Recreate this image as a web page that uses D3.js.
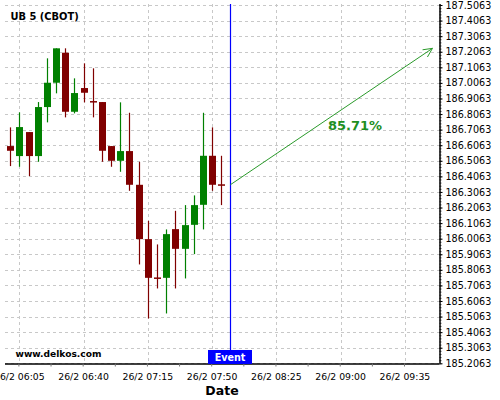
<!DOCTYPE html>
<html>
<head>
<meta charset="utf-8">
<script src="https://cdn.jsdelivr.net/npm/d3@7"></script>
<style>
	body { margin: 0; background: #fff; }
	text { font-family: 'DejaVu Sans', sans-serif; }
</style>
</head>
<body>
<svg id="chart" width="500" height="400"></svg>
<script>
// candle data, 5 minute bars on 26/2
const times = ['06:00', '06:05', '06:10', '06:15', '06:20', '06:25', '06:30', '06:35',
	'06:40', '06:45', '06:50', '06:55', '07:00', '07:05', '07:10', '07:15',
	'07:20', '07:25', '07:30', '07:35', '07:40', '07:45', '07:50', '07:55'];
const open = [186.6007, 186.5365, 186.6906, 186.5365, 186.8512, 187.0073, 187.2000, 186.8210,
	186.9732, 186.8897, 186.8833, 186.6007, 186.5063, 186.5686, 186.3522, 186.0034,
	185.7575, 185.7549, 186.0676, 185.9411, 186.0952, 186.2237, 186.5384, 186.3554];
const high = [186.7208, 186.8171, 186.6906, 186.8833, 187.1640, 187.2282, 187.2282, 187.0355,
	187.1319, 187.0998, 186.8833, 186.6007, 186.8814, 186.8146, 186.4999, 186.1209,
	185.9694, 186.0657, 186.1852, 186.2218, 186.2841, 186.8146, 186.7208, 186.5384];
const low = [186.4723, 186.4678, 186.4080, 186.4999, 186.7529, 186.9392, 186.7850, 186.8107,
	186.8814, 186.7850, 186.4999, 186.4678, 186.4357, 186.3136, 185.8409, 185.4941,
	185.6868, 185.5262, 185.6868, 185.7510, 185.9071, 186.0657, 186.3136, 186.2218];
const close = [186.5705, 186.7227, 186.5365, 186.8512, 187.0073, 187.2282, 186.8210, 186.9411,
	186.9430, 186.8877, 186.5705, 186.5063, 186.5686, 186.3522, 186.0034, 185.7549,
	185.7549, 186.0355, 185.9411, 186.0933, 186.2218, 186.5384, 186.3522, 186.3522];

const eventTime = '08:00';
const forecastTimes = ['08:00', '09:50'];
const forecastValues = [186.353, 187.228];
const forecastLabel = '85.71%';

const xTicks = ['06:05', '06:40', '07:15', '07:50', '08:25', '09:00', '09:35'];
const yTicks = [185.2063, 185.3063, 185.4063, 185.5063, 185.6063, 185.7063, 185.8063, 185.9063,
	186.0063, 186.1063, 186.2063, 186.3063, 186.4063, 186.5063, 186.6063, 186.7063,
	186.8063, 186.9063, 187.0063, 187.1063, 187.2063, 187.3063, 187.4063, 187.5063];

const title = 'UB 5 (CBOT)';
const parseTime = d3.timeParse('%H:%M');

const plotLeft = 5, plotRight = 439.5, plotTop = 4, plotBottom = 363.5;

const x = d3.scaleTime()
	.domain([new Date(1900, 0, 1, 5, 57, 12), new Date(1900, 0, 1, 9, 53, 50)])
	.range([plotLeft, plotRight]);

const y = d3.scaleLinear()
	.domain([185.2063, 187.5063])
	.range([363.3, 5]);

const svg = d3.select('#chart');

// grid
const grid = svg.append('g').attr('class', 'grid');
grid.selectAll('line.h')
	.data(yTicks)
	.enter()
	.append('line')
	.attr('x1', plotLeft)
	.attr('x2', plotRight)
	.attr('y1', (d) => Math.round(y(d)) + 0.5)
	.attr('y2', (d) => Math.round(y(d)) + 0.5)
	.attr('stroke', '#c8c8c8')
	.attr('stroke-dasharray', '3,3');

grid.selectAll('line.v')
	.data(xTicks)
	.enter()
	.append('line')
	.attr('x1', (d) => Math.round(x(parseTime(d))) + 0.5)
	.attr('x2', (d) => Math.round(x(parseTime(d))) + 0.5)
	.attr('y1', plotTop)
	.attr('y2', plotBottom)
	.attr('stroke', '#c8c8c8')
	.attr('stroke-dasharray', '3,3');

// candles
const candles = svg.append('g')
	.selectAll('g')
	.data(times.map((t, i) => ({
		t: parseTime(t), o: open[i], h: high[i], l: low[i], c: close[i]
	})))
	.enter()
	.append('g');

const colour = (d) => d.c > d.o ? '#008000' : '#800000';

candles.append('line')
	.attr('x1', (d) => Math.round(x(d.t)) + 0.5)
	.attr('x2', (d) => Math.round(x(d.t)) + 0.5)
	.attr('y1', (d) => y(d.h))
	.attr('y2', (d) => y(d.l))
	.attr('stroke', colour)
	.attr('stroke-width', 1.2);

candles.append('rect')
	.attr('x', (d) => Math.round(x(d.t)) - 3)
	.attr('width', 7)
	.attr('y', (d) => y(Math.max(d.o, d.c)))
	.attr('height', (d) => Math.max(1.5, Math.abs(y(d.o) - y(d.c))))
	.attr('fill', colour);

// event line
const ex = Math.round(x(parseTime(eventTime))) + 0.5;
svg.append('line')
	.attr('x1', ex)
	.attr('x2', ex)
	.attr('y1', plotTop)
	.attr('y2', plotBottom)
	.attr('stroke', '#0000ff')
	.attr('stroke-width', 1.2);

// forecast arrow
const p0 = [x(parseTime(forecastTimes[0])), y(forecastValues[0])];
const p1 = [x(parseTime(forecastTimes[1])), y(forecastValues[1])];
const ang = Math.atan2(p1[1] - p0[1], p1[0] - p0[0]);
const headLen = 10, headAng = 0.45;
const h1 = [p1[0] - headLen * Math.cos(ang - headAng), p1[1] - headLen * Math.sin(ang - headAng)];
const h2 = [p1[0] - headLen * Math.cos(ang + headAng), p1[1] - headLen * Math.sin(ang + headAng)];

svg.append('path')
	.attr('d', d3.line()([p0, p1]))
	.attr('stroke', '#2a9a2a')
	.attr('fill', 'none');
svg.append('path')
	.attr('d', d3.line()([h1, p1, h2]))
	.attr('stroke', '#2a9a2a')
	.attr('fill', 'none');

svg.append('text')
	.attr('x', 355)
	.attr('y', 130)
	.attr('text-anchor', 'middle')
	.attr('font-size', '13px')
	.attr('font-weight', 'bold')
	.attr('fill', '#1f8f1f')
	.text(forecastLabel);

// axes
const yMinor = d3.axisRight(y)
	.tickValues(d3.range(0, 116).map((i) => 185.2063 + i * 0.02))
	.tickSize(2)
	.tickFormat('');

svg.append('g')
	.attr('transform', `translate(${plotRight},0)`)
	.call(yMinor)
	.call((g) => g.select('.domain').remove())
	.selectAll('line').attr('stroke', '#555');

const yAxis = d3.axisRight(y)
	.tickValues(yTicks)
	.tickSize(3)
	.tickPadding(3)
	.tickFormat(d3.format('.4f'));

const gy = svg.append('g')
	.attr('transform', `translate(${plotRight},0)`)
	.call(yAxis);
gy.select('.domain')
	.attr('d', `M0.5,${plotTop}V${plotBottom}`)
	.attr('stroke', '#000')
	.attr('stroke-width', 1.5);
gy.selectAll('text')
	.attr('font-family', 'DejaVu Sans, sans-serif')
	.attr('font-size', '9.6px')
	.attr('fill', '#000');

const xMinorTicks = d3.range(0, 14).map((i) => new Date(parseTime('05:47').getTime() + i * 17.5 * 60000));
const xAxis = d3.axisBottom(x)
	.tickValues(xMinorTicks)
	.tickSize(3)
	.tickFormat('');

const gx = svg.append('g')
	.attr('transform', `translate(0,${plotBottom})`)
	.call(xAxis);
gx.select('.domain')
	.attr('d', `M${plotLeft},0.5H${plotRight}`)
	.attr('stroke', '#000')
	.attr('stroke-width', 1.5);
gx.selectAll('.tick line').attr('stroke', '#777');

svg.append('g')
	.selectAll('text')
	.data(xTicks)
	.enter()
	.append('text')
	.attr('x', (d) => x(parseTime(d)))
	.attr('y', 380)
	.attr('text-anchor', 'middle')
	.attr('font-size', '9.3px')
	.attr('fill', '#000')
	.text((d) => '26/2 ' + d);

svg.append('text')
	.attr('x', 222)
	.attr('y', 395)
	.attr('text-anchor', 'middle')
	.attr('font-size', '12.5px')
	.attr('font-weight', 'bold')
	.text('Date');

// labels
svg.append('text')
	.attr('x', 10.5)
	.attr('y', 19.5)
	.attr('font-size', '9.9px')
	.attr('font-weight', 'bold')
	.text(title);

svg.append('text')
	.attr('x', 15.5)
	.attr('y', 357)
	.attr('font-size', '9.1px')
	.attr('font-weight', 'bold')
	.text('www.delkos.com');

svg.append('rect')
	.attr('x', 208)
	.attr('y', 350)
	.attr('width', 44)
	.attr('height', 14)
	.attr('fill', '#0000ff');

svg.append('text')
	.attr('x', 230)
	.attr('y', 361)
	.attr('text-anchor', 'middle')
	.attr('font-size', '9.6px')
	.attr('font-weight', 'bold')
	.attr('fill', '#fff')
	.text('Event');
</script>
</body>
</html>
